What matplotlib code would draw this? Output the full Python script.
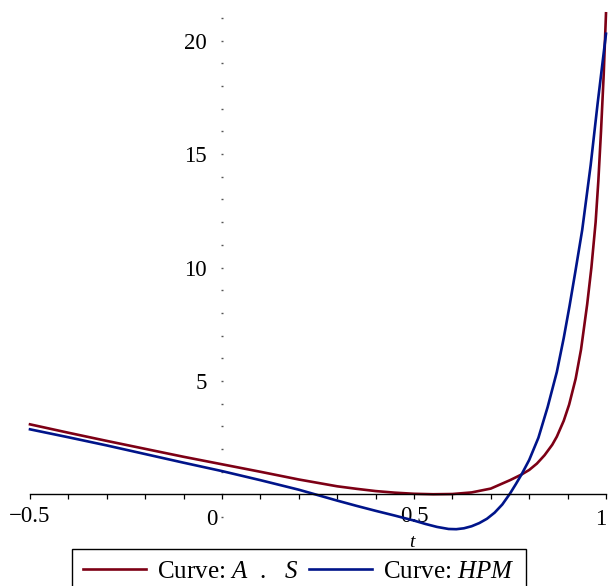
import matplotlib
matplotlib.use("Agg")
import matplotlib.pyplot as plt

# values
t_as = [-0.5, -0.4, -0.3, -0.2, -0.1, 0.0, 0.1, 0.2, 0.3, 0.35, 0.4, 0.45, 0.5, 0.55,
        0.6, 0.65, 0.7, 0.75, 0.78, 0.8, 0.82, 0.84, 0.86, 0.872, 0.89, 0.904, 0.921,
        0.935, 0.951, 0.962, 0.973, 0.98, 0.987, 0.994, 1.0]
y_as = [3.09, 2.72, 2.36, 2.01, 1.66, 1.33, 1.0, 0.66, 0.36, 0.25, 0.15, 0.08, 0.03, 0.01,
        0.02, 0.09, 0.26, 0.63, 0.88, 1.08, 1.36, 1.73, 2.19, 2.55, 3.25, 3.96, 5.1,
        6.39, 8.38, 10.0, 12.0, 13.8, 16.0, 18.5, 21.2]

t_hpm = [-0.5, -0.4, -0.3, -0.2, -0.1, 0.0, 0.1, 0.2, 0.25, 0.3, 0.35, 0.4, 0.45,
         0.5, 0.53, 0.56, 0.59, 0.61, 0.63, 0.65, 0.67, 0.69, 0.71, 0.73, 0.75,
         0.765, 0.78, 0.8, 0.824, 0.848, 0.872, 0.89, 0.905, 0.92, 0.938, 0.96,
         0.978, 1.0]
y_hpm = [2.87, 2.52, 2.16, 1.78, 1.40, 1.03, 0.63, 0.21, -0.03, -0.27, -0.5, -0.72, -0.93,
         -1.15, -1.3, -1.43, -1.52, -1.53, -1.49, -1.4, -1.26, -1.07, -0.8, -0.44, 0.04,
         0.45, 0.88, 1.52, 2.5, 3.85, 5.4, 6.9, 8.3, 9.8, 11.65, 14.5,
         17.2, 20.3]

x_major = [-0.5, 0.5]
x_major_labels = ["\u22120.5", "0.5"]
y_major = [5, 10, 15, 20]
labels = [r"Curve: $A$  .   $S$", r"Curve: $HPM$"]
colors = ["#7d0015", "#00148a"]

plt.rcParams["font.family"] = ["Liberation Serif", "DejaVu Serif"]
plt.rcParams["mathtext.fontset"] = "custom"
plt.rcParams["mathtext.rm"] = "Liberation Serif"
plt.rcParams["mathtext.it"] = "Liberation Serif:italic"

fig = plt.figure(figsize=(6.09, 5.86), dpi=100)
ax = fig.add_axes([30 / 609, 1 - 529.2 / 586, 576 / 609, 515.9 / 586])

ax.plot(t_as, y_as, color=colors[0], lw=1.9, label=labels[0], clip_on=False)
ax.plot(t_hpm, y_hpm, color=colors[1], lw=1.9, label=labels[1], clip_on=False)

ax.set_xlim(-0.5, 1.0)
ax.set_ylim(min(y_hpm), max(y_as))

for side in ["top", "right", "left"]:
    ax.spines[side].set_visible(False)
ax.spines["bottom"].set_position(("data", 0))
ax.spines["bottom"].set_linewidth(1.0)
ax.spines["left"].set_position(("data", 0))

ax.set_xticks(x_major)
ax.set_xticklabels(x_major_labels)
ax.set_xticks([i / 10 for i in range(-5, 11)], minor=True)
ax.tick_params(axis="x", which="both", direction="out", length=3.5, width=0.9,
               labelsize=16.5, pad=5)

ax.set_yticks(y_major)
ax.set_yticks(list(range(-1, 22)), minor=True)
ax.tick_params(axis="y", which="both", direction="inout", length=2, width=1,
               color="#555555", labelsize=16.5, pad=10)

# labels that Maple shifts off their ticks
ax.text(-0.027, -0.62, "0", fontsize=16.5, ha="center", va="top")
ax.text(1.0, -0.62, "1", fontsize=16.5, ha="right", va="top")
ax.text(0.495, -1.75, "t", fontsize=14, style="italic", ha="center", va="top")

fig.legend(loc="upper center", bbox_to_anchor=(299 / 609, 1 - 549 / 586), ncol=2,
           fontsize=18, frameon=True, fancybox=False, edgecolor="black",
           framealpha=1, handlelength=2.5, handletextpad=0.45, columnspacing=0.45,
           borderpad=0.45, borderaxespad=0)

fig.savefig("out.png", dpi=100)
